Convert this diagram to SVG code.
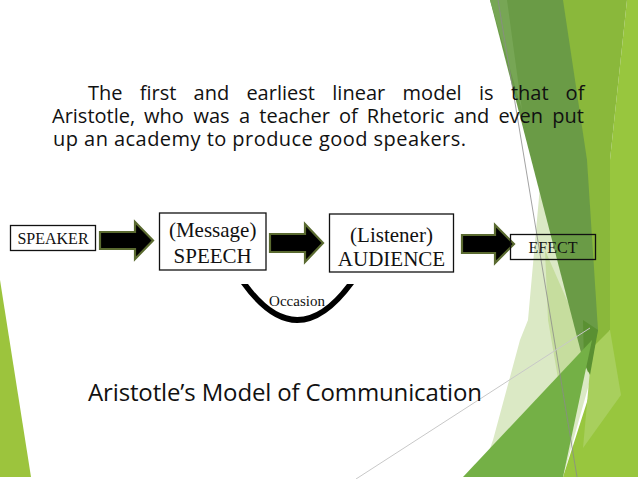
<svg xmlns="http://www.w3.org/2000/svg" width="638" height="479" viewBox="0 0 638 479">
<style>
.body{font-family:"Open Sans","Noto Sans","DejaVu Sans",sans-serif;font-size:20px;fill:#111}
.title{font-family:"Open Sans","Noto Sans","DejaVu Sans",sans-serif;font-size:24px;fill:#111}
.serif{font-family:"Liberation Serif","Times New Roman",serif;fill:#111;text-anchor:middle}
.box{fill:none;stroke:#111;stroke-width:1.3}
.arrow{fill:#000;stroke:#5a6a30;stroke-width:2.2;stroke-linejoin:miter}
</style>
<rect width="638" height="479" fill="#fff"/>
<g id="background">
  <polygon points="0,280 31,477 0,477" fill="#9cc43d"/>
  <polygon points="541,175 575,300 600,345 563,477 480,477 493,440 520,340 528,320" fill="#dbe9c5"/>
  <polygon points="545,250 580,330 592,345 560,390 548,320" fill="#c6dd9e"/>
  <polygon points="627,0 638,0 638,477 563,477 610,330 610,160" fill="#98c63e"/>
  <polygon points="560,0 627,0 610,160 610,330 596,375 588,372" fill="#8ab83b"/>
  <polygon points="592,348 610,330 621,395 583,448" fill="#a8cf5d"/>
  <polygon points="490,0 563,0 587,160 598,330 588,372 583,360" fill="#6a9b46"/>
  <polygon points="490,0 507,0 522,110" fill="#77a655"/>
  <polygon points="583,320 598,330 590,375 584,362" fill="#5a9032"/>
  <polygon points="463,477 592,340 563,477" fill="#74b046"/>
  <line x1="498" y1="0" x2="577" y2="477" stroke="#8a8a8a" stroke-width="0.8"/>
  <line x1="356" y1="479" x2="590" y2="328" stroke="#c8c8c8" stroke-width="1"/>
</g>
<g id="paragraph" class="body">
  <text y="99.5"><tspan x="88">The</tspan><tspan x="139.7">first</tspan><tspan x="193.6">and</tspan><tspan x="246.4">earliest</tspan><tspan x="332.3">linear</tspan><tspan x="402.6">model</tspan><tspan x="479">is</tspan><tspan x="510.9">that</tspan><tspan x="565.6">of</tspan></text>
  <text y="122.5"><tspan x="52">Aristotle,</tspan><tspan x="144.1">who</tspan><tspan x="193.4">was</tspan><tspan x="239.1">a</tspan><tspan x="259.3">teacher</tspan><tspan x="339">of</tspan><tspan x="366.8">Rhetoric</tspan><tspan x="453.7">and</tspan><tspan x="498.4">even</tspan><tspan x="552.2">put</tspan></text>
  <text x="53" y="145.5" textLength="413" lengthAdjust="spacing">up an academy to produce good speakers.</text>
</g>
<g id="connectors">
  <polygon class="arrow" points="100,232 135,232 135,222 153,240.5 135,259 135,249 100,249"/>
  <polygon class="arrow" points="270,234 305,234 305,224 323,243 305,262 305,252 270,252"/>
  <polygon class="arrow" points="462,235 495,235 495,225 514,244 495,263 495,253 462,253"/>
</g>
<g id="speaker">
  <rect class="box" x="10.5" y="225.5" width="85" height="25"/>
  <text class="serif" x="53" y="244.3" font-size="16">SPEAKER</text>
</g>
<g id="speech">
  <rect class="box" x="159.5" y="213" width="106.5" height="57"/>
  <text class="serif" x="212.7" y="237" font-size="21">(Message)</text>
  <text class="serif" x="212.7" y="263" font-size="21">SPEECH</text>
</g>
<g id="audience">
  <rect class="box" x="329.5" y="214" width="124" height="58"/>
  <text class="serif" x="391.5" y="242" font-size="21">(Listener)</text>
  <text class="serif" x="391.5" y="265.5" font-size="21">AUDIENCE</text>
</g>
<g id="effect">
  <rect class="box" x="510.5" y="234.5" width="85" height="25"/>
  <text class="serif" x="553" y="253.3" font-size="16">EFECT</text>
</g>
<g id="occasion">
  <path d="M241,284 Q297,362 354,284 L347,284 Q297,350 248,284 Z" fill="#000"/>
  <text class="serif" x="297" y="306" font-size="15">Occasion</text>
</g>
<text class="title" x="88" y="401" textLength="394" lengthAdjust="spacing">Aristotle’s Model of Communication</text>
</svg>
